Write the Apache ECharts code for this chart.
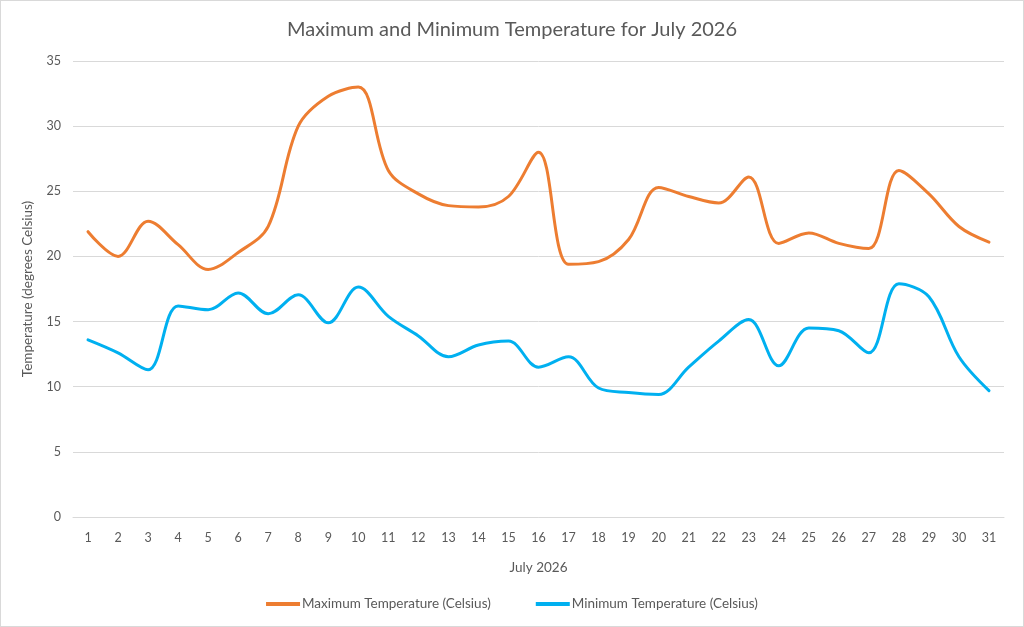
<!DOCTYPE html>
<html>
<head>
<meta charset="utf-8">
<title>Maximum and Minimum Temperature for July 2026</title>
<script src="https://cdn.jsdelivr.net/npm/echarts@6/dist/echarts.min.js"></script>
<style>
  html, body { margin: 0; padding: 0; background: #fff; }
  #main { width: 1024px; height: 627px; box-sizing: border-box; border: 1px solid #d9d9d9; }
</style>
</head>
<body>
<div id="main"></div>
<script>
// days of July 2026
var days = [];
for (var d = 1; d <= 31; d++) days.push(String(d));

// (degrees Celsius)
var maxTemps = [21.9, 20.0, 22.7, 20.9, 19.0, 20.3, 22.3, 30.0, 32.3, 33.0,
                26.6, 24.8, 23.9, 23.8, 24.6, 28.0, 19.4, 19.6, 21.3, 25.3,
                24.6, 24.1, 26.1, 21.0, 21.8, 21.0, 20.6, 26.6, 24.8, 22.3, 21.1];
var minTemps = [13.6, 12.6, 11.3, 16.2, 15.9, 17.2, 15.6, 17.05, 14.9, 17.65,
                15.4, 13.9, 12.3, 13.2, 13.5, 11.5, 12.3, 9.9, 9.55, 9.4,
                11.5, 13.5, 15.15, 11.6, 14.5, 14.3, 12.6, 17.9, 16.9, 12.3, 9.7];

var seriesNames = ['Maximum Temperature (Celsius)', 'Minimum Temperature (Celsius)'];
var colors = ['#ED7D31', '#00B0F0'];

var FONT = 'Lato, "Noto Sans", sans-serif';
var GREY = '#595959';

var myChart = echarts.init(document.getElementById('main'));

var option = {
  animation: false,
  color: colors,
  textStyle: { fontFamily: FONT },
  title: {
    text: 'Maximum and Minimum Temperature for July 2026',
    left: 'center',
    top: 14,
    textStyle: { color: GREY, fontSize: 20, fontWeight: 'normal', fontFamily: FONT }
  },
  legend: {
    bottom: 10,
    left: 'center',
    itemGap: 45,
    itemWidth: 34,
    itemHeight: 4,
    icon: 'rect',
    data: seriesNames,
    textStyle: { color: GREY, fontSize: 13.5, fontFamily: FONT, padding: [0, 0, 0, -3] }
  },
  grid: { left: 72, right: 19, top: 60, bottom: 109 },
  xAxis: {
    type: 'category',
    data: days,
    boundaryGap: true,
    name: 'July 2026',
    nameLocation: 'middle',
    nameGap: 44,
    nameTextStyle: { color: GREY, fontSize: 13.5, fontFamily: FONT },
    axisLine: { lineStyle: { color: '#d9d9d9' } },
    axisTick: { show: false },
    axisLabel: { color: GREY, fontSize: 12.5, margin: 14, interval: 0 }
  },
  yAxis: {
    type: 'value',
    min: 0,
    max: 35,
    interval: 5,
    name: 'Temperature (degrees Celsius)',
    nameLocation: 'middle',
    nameGap: 38,
    nameTextStyle: { color: GREY, fontSize: 13.5, fontFamily: FONT },
    axisLine: { show: false },
    axisTick: { show: false },
    axisLabel: { color: GREY, fontSize: 12.5, margin: 12 },
    splitLine: { lineStyle: { color: '#d9d9d9', width: 1 } }
  },
  series: [
    {
      name: seriesNames[0],
      type: 'line',
      data: maxTemps,
      smooth: 0.35,
      showSymbol: false,
      lineStyle: { width: 3, color: colors[0], cap: 'round' }
    },
    {
      name: seriesNames[1],
      type: 'line',
      data: minTemps,
      smooth: 0.35,
      showSymbol: false,
      lineStyle: { width: 3, color: colors[1], cap: 'round' }
    }
  ]
};

myChart.setOption(option);
</script>
</body>
</html>
